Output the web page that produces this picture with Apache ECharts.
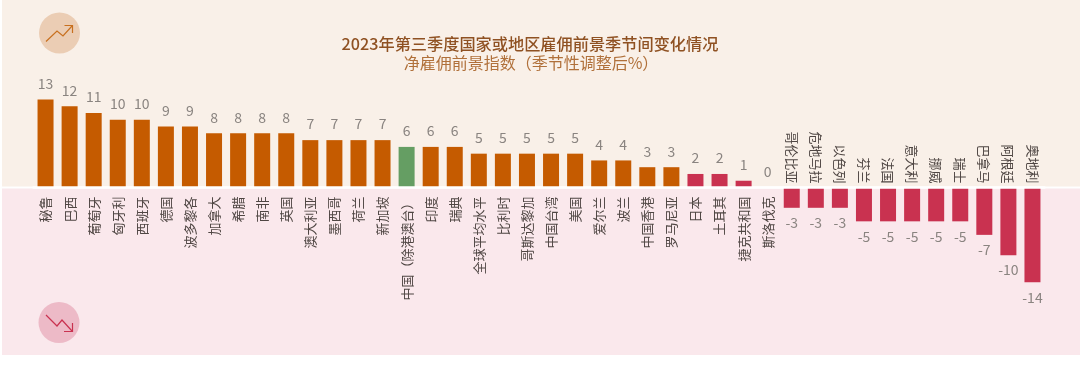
<!DOCTYPE html>
<html><head><meta charset="utf-8">
<style>html,body{margin:0;padding:0;background:#fff}#c{width:1080px;height:366px}</style>
<script src="https://cdn.jsdelivr.net/npm/echarts@6/dist/echarts.min.js"></script>
</head><body><div id="c"></div>
<script>
const categories = ['秘鲁','巴西','葡萄牙','匈牙利','西班牙','德国','波多黎各','加拿大','希腊','南非','英国','澳大利亚','墨西哥','荷兰','新加坡','中国\uFF08除港澳台\uFF09','印度','瑞典','全球平均水平','比利时','哥斯达黎加','中国台湾','美国','爱尔兰','波兰','中国香港','罗马尼亚','日本','土耳其','捷克共和国','斯洛伐克','哥伦比亚','危地马拉','以色列','芬兰','法国','意大利','挪威','瑞士','巴拿马','阿根廷','奥地利'];
const values = [13,12,11,10,10,9,9,8,8,8,8,7,7,7,7,6,6,6,5,5,5,5,5,4,4,3,3,2,2,1,0,-3,-3,-3,-5,-5,-5,-5,-5,-7,-10,-14];
const redPositive = ['日本','土耳其','捷克共和国'];
const highlight = '中国\uFF08除港澳台\uFF09';
const titleText = '2023年第三季度国家或地区雇佣前景季节间变化情况';
const subtitleText = '净雇佣前景指数\uFF08季节性调整后%\uFF09';
const orange = '#C55B00', green = '#659E63', red = '#C93250';
const font = '"Noto Sans CJK SC","Noto Sans",sans-serif';
const negSet = new Set(categories.filter((c,i)=>values[i]<0));
const colorOf = (c,v)=> c===highlight?green:((v<0||redPositive.includes(c))?red:orange);
const chart = echarts.init(document.getElementById('c'), null, {renderer:'canvas'});
const labelBase = {interval:0, rotate:90, fontSize:13, fontFamily:font, color:'#4F4643', hideOverlap:false};
const valueLabel = {show:true,fontSize:14,fontFamily:font,color:'#8A8480'};
chart.setOption({
  animation:false,
  backgroundColor:'#fff',
  graphic:[
    {type:'rect',z:-10,silent:true,shape:{x:2,y:0,width:1078,height:186.5},style:{fill:'#F9F0E8'}},
    {type:'rect',z:-10,silent:true,shape:{x:2,y:188.5,width:1078,height:166.5},style:{fill:'#FAE8EC'}},
    {type:'circle',z:-5,silent:true,shape:{cx:59.5,cy:33,r:20.5},style:{fill:'#EBCDB4'}},
    {type:'polyline',z:-4,silent:true,shape:{points:[[46,41.5],[57,31],[63,36],[72,26]]},style:{fill:null,stroke:'#C8701F',lineWidth:1.2}},
    {type:'polyline',z:-4,silent:true,shape:{points:[[64.5,25.5],[72.5,25.5],[72.5,33]]},style:{fill:null,stroke:'#C8701F',lineWidth:1.2}},
    {type:'circle',z:-5,silent:true,shape:{cx:59,cy:322.5,r:20.5},style:{fill:'#EDBAC7'}},
    {type:'polyline',z:-4,silent:true,shape:{points:[[46,315],[57,326],[62,320],[72,331]]},style:{fill:null,stroke:'#C93250',lineWidth:1.2}},
    {type:'polyline',z:-4,silent:true,shape:{points:[[64,331.5],[72.5,331.5],[72.5,323]]},style:{fill:null,stroke:'#C93250',lineWidth:1.2}}
  ],
  title:[
    {text:titleText,left:525,top:29,textAlign:'center',textStyle:{fontFamily:font,fontSize:16.2,fontWeight:500,color:'#8F5122',lineHeight:20}},
    {text:subtitleText,left:526,top:48,textAlign:'center',textStyle:{fontFamily:font,fontSize:16,fontWeight:400,color:'#B0703A',lineHeight:20}}
  ],
  grid:[
    {left:33.5,width:1011,top:86,height:101.5,outerBoundsMode:'none'},
    {left:33.5,width:1011,top:187.5,height:101.5,outerBoundsMode:'none'}
  ],
  xAxis:[
    {type:'category',gridIndex:0,data:categories,position:'bottom',z:10,
     axisLine:{show:true,onZero:false,lineStyle:{color:'#fff',width:2.5}},axisTick:{show:false},
     axisLabel:Object.assign({},labelBase,{margin:9,formatter:v=>negSet.has(v)?'':v})},
    {type:'category',gridIndex:1,data:categories,position:'top',
     axisLine:{show:false,onZero:false},axisTick:{show:false},
     axisLabel:Object.assign({},labelBase,{margin:4,formatter:v=>negSet.has(v)?v:''})}
  ],
  yAxis:[
    {type:'value',gridIndex:0,min:0,max:15,show:false,splitLine:{show:false}},
    {type:'value',gridIndex:1,min:-15,max:0,show:false,splitLine:{show:false}}
  ],
  series:[
    {type:'bar',barWidth:16,xAxisIndex:0,yAxisIndex:0,
     data:values.map((v,i)=>v>=0?{value:v,itemStyle:{color:colorOf(categories[i],v)}}:null),
     label:Object.assign({},valueLabel,{position:'top',distance:9})},
    {type:'bar',barWidth:16,xAxisIndex:1,yAxisIndex:1,
     data:values.map((v,i)=>v<0?{value:v,itemStyle:{color:colorOf(categories[i],v)}}:null),
     label:Object.assign({},valueLabel,{position:'bottom',distance:8})}
  ]
});
</script></body></html>
